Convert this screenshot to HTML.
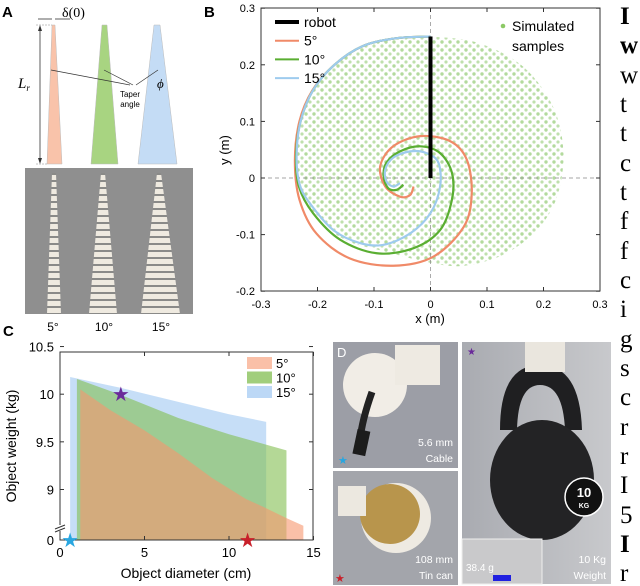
<!DOCTYPE html>
<html><head><meta charset="utf-8"><style>
html,body{margin:0;padding:0;background:#fff;}
svg{display:block;font-family:"Liberation Sans",sans-serif;}
</style></head><body>
<svg id="fig" width="640" height="586" viewBox="0 0 640 586" xmlns="http://www.w3.org/2000/svg">
<defs>
<pattern id="dots" width="8" height="8" patternUnits="userSpaceOnUse">
<circle cx="2" cy="2" r="1.7" fill="#b3da9d"/><circle cx="6" cy="6" r="1.6" fill="#bfe0ad"/>
</pattern>
<pattern id="seg" width="10" height="7" patternUnits="userSpaceOnUse">
<rect width="10" height="7" fill="#efeae0"/><rect y="5" width="10" height="2" fill="#8a8a88"/>
</pattern>
<linearGradient id="kbg" x1="0" y1="0" x2="1" y2="0"><stop offset="0" stop-color="#a9abb1"/><stop offset="1" stop-color="#c8c9cc"/></linearGradient>
</defs>

<!-- Panel A -->
<g>
<text x="2" y="17" font-size="15" font-weight="bold">A</text>
<polygon points="52,25 55,25 62,164 47,164" fill="#f9c3aa" stroke="#bbb" stroke-width="0.5"/>
<polygon points="102,25 107,25 118,164 91,164" fill="#a8d481" stroke="#bbb" stroke-width="0.5"/>
<polygon points="154,25 160,25 177,164 138,164" fill="#c4dcf5" stroke="#bbb" stroke-width="0.5"/>
<line x1="40" y1="27" x2="40" y2="162" stroke="#333" stroke-width="0.8"/>
<polygon points="40,25 38,31 42,31" fill="#333"/><polygon points="40,164 38,158 42,158" fill="#333"/>
<line x1="36" y1="25" x2="52" y2="25" stroke="#888" stroke-width="0.5" stroke-dasharray="2,1"/>
<line x1="36" y1="164" x2="47" y2="164" stroke="#888" stroke-width="0.5" stroke-dasharray="2,1"/>
<text x="18" y="88" font-family="Liberation Serif,serif" font-style="italic" font-size="15">L<tspan font-size="9" dy="3">r</tspan></text>
<line x1="38" y1="19" x2="52" y2="19" stroke="#333" stroke-width="0.8"/><line x1="55" y1="19" x2="70" y2="19" stroke="#333" stroke-width="0.8"/>
<text x="62" y="17" font-family="Liberation Serif,serif" font-size="14">δ(0)</text>
<line x1="51" y1="70" x2="130" y2="85" stroke="#333" stroke-width="0.7"/>
<line x1="104" y1="70" x2="133" y2="85" stroke="#333" stroke-width="0.7"/>
<line x1="158" y1="70" x2="136" y2="85" stroke="#333" stroke-width="0.7"/>
<text x="130" y="97" font-size="8" text-anchor="middle">Taper</text>
<text x="130" y="107" font-size="8" text-anchor="middle">angle</text>
<text x="157" y="88" font-family="Liberation Serif,serif" font-style="italic" font-size="13">ϕ</text>
<rect x="25" y="168" width="168" height="146" fill="#8f8f8f"/>
<polygon points="52,173 56,173 61,314 47,314" fill="url(#seg)"/>
<polygon points="101,173 105,173 117,314 89,314" fill="url(#seg)"/>
<polygon points="157,173 161,173 180,314 141,314" fill="url(#seg)"/>
<text x="53" y="331" font-size="12" text-anchor="middle">5°</text>
<text x="104" y="331" font-size="12" text-anchor="middle">10°</text>
<text x="161" y="331" font-size="12" text-anchor="middle">15°</text>
</g>

<!-- Panel B -->
<g id="pb">
<text x="204" y="17" font-size="15" font-weight="bold">B</text>
</g>

<!-- Panel C -->
<g id="pc">
<text x="3" y="336" font-size="15" font-weight="bold">C</text>
</g>

<!-- Panel D -->
<g>
<rect x="333" y="342" width="125" height="126" fill="#9c9ea6"/>
<circle cx="375" cy="385" r="32" fill="#f1ede6"/>
<rect x="395" y="345" width="45" height="40" fill="#eeeae2"/>
<path d="M372 392 Q362 420 360 440" stroke="#222" stroke-width="7" fill="none"/>
<rect x="355" y="430" width="13" height="25" fill="#1c1c1c" transform="rotate(12 361 442)"/>
<text x="337" y="357" font-size="13" fill="#fff">D</text>
<text x="453" y="446" font-size="10.5" fill="#fff" text-anchor="end">5.6 mm</text>
<text x="453" y="462" font-size="10.5" fill="#fff" text-anchor="end">Cable</text>
<text x="338" y="464" font-size="11" fill="#29a6e0">★</text>
<rect x="333" y="471" width="125" height="114" fill="#a3a5ab"/>
<circle cx="396" cy="518" r="35" fill="#eeeae2"/>
<circle cx="390" cy="514" r="30" fill="#b8954c"/>
<rect x="338" y="486" width="28" height="30" fill="#ece8e0"/>
<text x="453" y="563" font-size="10.5" fill="#fff" text-anchor="end">108 mm</text>
<text x="453" y="579" font-size="10.5" fill="#fff" text-anchor="end">Tin can</text>
<text x="335" y="582" font-size="11" fill="#c8202a">★</text>
<rect x="462" y="342" width="149" height="242" fill="url(#kbg)"/>
<path d="M500 430 Q500 365 540 365 Q580 365 582 430 L565 430 Q563 385 540 385 Q518 385 517 430 Z" fill="#1f1f21"/>
<ellipse cx="542" cy="480" rx="52" ry="60" fill="#232325"/>
<circle cx="584" cy="497" r="19" fill="#111" stroke="#fff" stroke-width="1.5"/>
<text x="584" y="497" font-size="13" font-weight="bold" fill="#fff" text-anchor="middle">10</text>
<text x="584" y="508" font-size="7" font-weight="bold" fill="#fff" text-anchor="middle">KG</text>
<rect x="525" y="342" width="40" height="30" fill="#eae6de"/>
<rect x="462" y="539" width="80" height="45" fill="#c9c9cb" stroke="#eee"/>
<text x="466" y="571" font-size="10" fill="#fff">38.4 g</text>
<rect x="493" y="575" width="18" height="6" fill="#2020e0"/>
<text x="606" y="563" font-size="10.5" fill="#fff" text-anchor="end">10 Kg</text>
<text x="606" y="579" font-size="10.5" fill="#fff" text-anchor="end">Weight</text>
<text x="467" y="355" font-size="10" fill="#6a2a9a">★</text>
</g>

<!-- Right text column -->
<g font-family="Liberation Serif,serif" font-size="25">
<text x="620" y="24" font-weight="bold">I</text>
<text x="620" y="53" font-weight="bold">w</text>
<text x="620" y="83">w</text><text x="620" y="112">t</text><text x="620" y="141">t</text>
<text x="620" y="171">c</text><text x="620" y="200">t</text><text x="620" y="229">f</text>
<text x="620" y="259">f</text><text x="620" y="288">c</text><text x="620" y="317">i</text>
<text x="620" y="347">g</text><text x="620" y="376">s</text><text x="620" y="405">c</text>
<text x="620" y="435">r</text><text x="620" y="464">r</text><text x="620" y="493">I</text>
<text x="620" y="523">5</text><text x="620" y="552" font-weight="bold">I</text><text x="620" y="581">r</text>
</g>
</svg>
<script>
// ---------- Panel B data ----------
const bXTicks = [-0.3,-0.2,-0.1,0,0.1,0.2,0.3];
const bYTicks = [-0.2,-0.1,0,0.1,0.2,0.3];
const robotX = [0, 0];
const robotY = [0, 0.25];
const spiral15X = [0,-0.06,-0.12,-0.17,-0.208,-0.23,-0.237,-0.232,-0.214,-0.172,-0.125,-0.083,-0.036,0,0.017,0.014,-0.007,-0.036,-0.066,-0.08,-0.078,-0.066,-0.054];
const spiral15Y = [0.25,0.247,0.233,0.2,0.155,0.1,0.04,-0.01,-0.044,-0.092,-0.115,-0.118,-0.098,-0.062,-0.015,0.027,0.044,0.047,0.036,0.015,-0.006,-0.015,-0.009];
const spiral10X = [0,-0.06,-0.12,-0.17,-0.208,-0.23,-0.238,-0.233,-0.208,-0.16,-0.095,-0.03,0.017,0.038,0.038,0.017,-0.018,-0.054,-0.078,-0.083,-0.075,-0.06,-0.048];
const spiral10Y = [0.25,0.247,0.233,0.2,0.155,0.1,0.04,-0.015,-0.062,-0.109,-0.133,-0.124,-0.092,-0.038,0.009,0.044,0.056,0.047,0.027,0.003,-0.018,-0.021,-0.012];
const spiral5X = [0,-0.06,-0.12,-0.17,-0.209,-0.232,-0.24,-0.232,-0.202,-0.143,-0.066,0.005,0.059,0.073,0.064,0.035,-0.018,-0.066,-0.089,-0.08,-0.054,-0.036,-0.03];
const spiral5Y = [0.25,0.247,0.233,0.2,0.155,0.1,0.03,-0.038,-0.098,-0.142,-0.155,-0.139,-0.086,-0.027,0.033,0.065,0.074,0.056,0.021,-0.015,-0.033,-0.03,-0.015];
const sampleRegionX = [0,0.08,0.16,0.215,0.235,0.225,0.19,0.13,0.06,0.0,-0.08,-0.15,-0.2,-0.232,-0.238,-0.23,-0.208,-0.17,-0.12,-0.06];
const sampleRegionY = [0.25,0.24,0.2,0.13,0.05,-0.03,-0.09,-0.135,-0.155,-0.15,-0.13,-0.11,-0.07,-0.01,0.04,0.1,0.155,0.2,0.233,0.247];

// ---------- Panel C data ----------
const cXTicks = [0,5,10,15];
const cYTicks = [9,9.5,10,10.5];
const area15X = [0.6,3.5,7,10,12.2];
const area15Y = [10.18,10.07,9.92,9.79,9.71];
const area10X = [1.0,3.5,7,10,13.4];
const area10Y = [10.16,10.0,9.75,9.58,9.41];
const area5X = [1.2,3,5,7,9,11,12,13.4,14.4];
const area5Y = [10.05,9.83,9.62,9.38,9.12,8.9,8.82,8.7,8.62];
const starX = [0.6,3.6,11.1];
const starY = [0,10.0,0];
const starLabels = ['cable','kettlebell','tin-can'];

const NS = 'http://www.w3.org/2000/svg';
function mk(parent, tag, attrs){const e=document.createElementNS(NS,tag);for(const k in attrs)e.setAttribute(k,attrs[k]);parent.appendChild(e);return e;}

// Panel B
const pb = document.getElementById('pb');
const bx = v => 430.5 + v*565;
const by = v => 178 - v*566;
function smooth(xs, ys){
  const p = xs.map((x,i)=>[bx(x),by(ys[i])]);
  let d = 'M'+p[0][0]+','+p[0][1];
  for(let i=0;i<p.length-1;i++){
    const p0=p[Math.max(i-1,0)],p1=p[i],p2=p[i+1],p3=p[Math.min(i+2,p.length-1)];
    d+=' C'+(p1[0]+(p2[0]-p0[0])/6)+','+(p1[1]+(p2[1]-p0[1])/6)+' '+(p2[0]-(p3[0]-p1[0])/6)+','+(p2[1]-(p3[1]-p1[1])/6)+' '+p2[0]+','+p2[1];
  }
  return d;
}
let reg = smooth(sampleRegionX, sampleRegionY)+'Z';
let e = mk(pb,'path',{d:reg,fill:'url(#dots)'});


mk(pb,'line',{x1:261,x2:600,y1:by(0),y2:by(0),stroke:'#888','stroke-width':0.7,'stroke-dasharray':'4,3'});
mk(pb,'line',{x1:bx(0),x2:bx(0),y1:8,y2:291,stroke:'#888','stroke-width':0.7,'stroke-dasharray':'4,3'});
const series=[[spiral5X,spiral5Y,'#f08a68','spiral-5deg'],[spiral10X,spiral10Y,'#5aae32','spiral-10deg'],[spiral15X,spiral15Y,'#9ecbee','spiral-15deg']];
series.forEach(s=>{
  const p=mk(pb,'path',{d:smooth(s[0],s[1]),fill:'none',stroke:s[2],'stroke-width':2.2});
  
  
});
e=mk(pb,'line',{x1:bx(robotX[0]),x2:bx(robotX[1]),y1:by(robotY[0]),y2:by(robotY[1]),stroke:'#000','stroke-width':4});


e=mk(pb,'rect',{x:261,y:8,width:339,height:283,fill:'none',stroke:'#333','stroke-width':1});


bXTicks.forEach(t=>{
  mk(pb,'line',{x1:bx(t),x2:bx(t),y1:291,y2:287,stroke:'#333'});
  mk(pb,'line',{x1:bx(t),x2:bx(t),y1:8,y2:12,stroke:'#333'});
  const tx=mk(pb,'text',{x:bx(t),y:308,'font-size':11,'text-anchor':'middle'});tx.textContent=(t===0?'0':String(t));
  
  
});
bYTicks.forEach(t=>{
  mk(pb,'line',{x1:261,x2:265,y1:by(t),y2:by(t),stroke:'#333'});
  mk(pb,'line',{x1:600,x2:596,y1:by(t),y2:by(t),stroke:'#333'});
  const tx=mk(pb,'text',{x:255,y:by(t)+4,'font-size':11,'text-anchor':'end'});tx.textContent=(t===0?'0':String(t));
  
  
});
e=mk(pb,'text',{x:430,y:323,'font-size':13,'text-anchor':'middle'});e.textContent='x (m)';


e=mk(pb,'text',{x:229,y:150,'font-size':13,'text-anchor':'middle',transform:'rotate(-90 229 150)'});e.textContent='y (m)';


const legB=[['robot','#000',4],['5°','#f08a68',2],['10°','#5aae32',2],['15°','#9ecbee',2]];
legB.forEach((l,i)=>{
  const y=22+i*18.7;
  mk(pb,'line',{x1:275,x2:299,y1:y,y2:y,stroke:l[1],'stroke-width':l[2]});
  const t=mk(pb,'text',{x:304,y:y+5,'font-size':14});t.textContent=l[0];
  
  
});
mk(pb,'circle',{cx:503,cy:26,r:2.3,fill:'#8cc965'});
e=mk(pb,'text',{x:512,y:31,'font-size':14});e.textContent='Simulated';


mk(pb,'text',{x:512,y:51,'font-size':14}).textContent='samples';

// Panel C
const pc = document.getElementById('pc');
const cx = v => 60 + v*16.9;
const cy = v => v < 8.5 ? 540 : 540 - (v-8.47)*95.3;
function area(xs,ys,fill,name){
  let d='M'+cx(xs[0])+','+cy(0);
  xs.forEach((x,i)=>{d+=' L'+cx(x)+','+cy(ys[i]);});
  d+=' L'+cx(xs[xs.length-1])+','+cy(0)+'Z';
  const p=mk(pc,'path',{d:d,fill:fill});
  
  
}
area(area15X,area15Y,'rgba(160,200,242,0.6)','area-15deg');
area(area10X,area10Y,'rgba(130,190,80,0.6)','area-10deg');
area(area5X,area5Y,'rgba(246,150,110,0.6)','area-5deg');
e=mk(pc,'rect',{x:60,y:352,width:253,height:188,fill:'none',stroke:'#333','stroke-width':1});


cXTicks.forEach(t=>{
  mk(pc,'line',{x1:cx(t),x2:cx(t),y1:540,y2:536,stroke:'#333'});
  mk(pc,'line',{x1:cx(t),x2:cx(t),y1:352,y2:356,stroke:'#333'});
  const tx=mk(pc,'text',{x:cx(t),y:557,'font-size':13,'text-anchor':'middle'});tx.textContent=String(t);
  
  
});
cYTicks.concat([0]).forEach(t=>{
  mk(pc,'line',{x1:60,x2:64,y1:cy(t),y2:cy(t),stroke:'#333'});
  mk(pc,'line',{x1:313,x2:309,y1:cy(t),y2:cy(t),stroke:'#333'});
  const tx=mk(pc,'text',{x:54,y:cy(t)+5,'font-size':13,'text-anchor':'end'});tx.textContent=String(t);
  
  
});
mk(pc,'rect',{x:55,y:525,width:10,height:6,fill:'#fff'});
mk(pc,'line',{x1:55,x2:65,y1:529,y2:525,stroke:'#333'});
mk(pc,'line',{x1:55,x2:65,y1:532,y2:528,stroke:'#333'});
const starCols=['#29a6e0','#6a2a9a','#c8202a'];
starX.forEach((x,i)=>{
  const t=mk(pc,'text',{x:cx(x),y:cy(starY[i])+7,'font-size':20,'text-anchor':'middle',fill:starCols[i]});t.textContent='★';
  
  
});
e=mk(pc,'text',{x:186,y:578,'font-size':14,'text-anchor':'middle'});e.textContent='Object diameter (cm)';


e=mk(pc,'text',{x:16,y:446,'font-size':14,'text-anchor':'middle',transform:'rotate(-90 16 446)'});e.textContent='Object weight (kg)';


const legC=[['5°','rgba(246,150,110,0.6)'],['10°','rgba(130,190,80,0.75)'],['15°','rgba(160,200,242,0.7)']];
legC.forEach((l,i)=>{
  const y=363+i*14.5;
  mk(pc,'rect',{x:247,y:y-6,width:25,height:12,fill:l[1]});
  const t=mk(pc,'text',{x:276,y:y+5,'font-size':13});t.textContent=l[0];
  
  
});
</script>
</body></html>
